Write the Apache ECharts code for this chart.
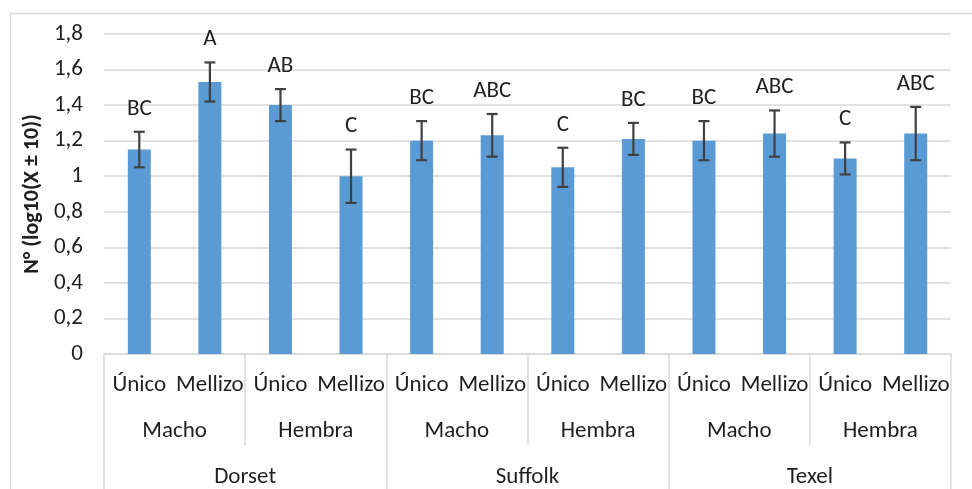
<!DOCTYPE html>
<html>
<head>
<meta charset="utf-8">
<script src="https://cdn.jsdelivr.net/npm/echarts@6/dist/echarts.min.js"></script>
<style>
  html, body { margin: 0; padding: 0; background: #fff; }
  #chart { width: 972px; height: 489px; }
</style>
</head>
<body>
<div id="chart"></div>
<script>
// niveles del eje de categorias
const tipoParto = ['Único', 'Mellizo', 'Único', 'Mellizo', 'Único', 'Mellizo',
                   'Único', 'Mellizo', 'Único', 'Mellizo', 'Único', 'Mellizo'];
const sexo = ['Macho', 'Hembra', 'Macho', 'Hembra', 'Macho', 'Hembra'];
const raza = ['Dorset', 'Suffolk', 'Texel'];

// medias, error y letras de significancia
const medias = [1.15, 1.53, 1.40, 1.00, 1.20, 1.23, 1.05, 1.21, 1.20, 1.24, 1.10, 1.24];
const errores = [0.10, 0.11, 0.09, 0.15, 0.11, 0.12, 0.11, 0.09, 0.11, 0.13, 0.09, 0.15];
const letras = ['BC', 'A', 'AB', 'C', 'BC', 'ABC', 'C', 'BC', 'BC', 'ABC', 'C', 'ABC'];

const yTicks = [0, 0.2, 0.4, 0.6, 0.8, 1, 1.2, 1.4, 1.6, 1.8];

const FONT = 'Carlito, Lato, sans-serif';
const TXT = '#1f1f1f';
const LINEA = '#d9d9d9';

var chart = echarts.init(document.getElementById('chart'), null, { renderer: 'canvas' });

var option = {
  animation: false,
  backgroundColor: '#fff',
  graphic: [{
    type: 'rect',
    left: 8, top: 11,
    shape: { width: 1100, height: 600 },
    style: { fill: 'none', stroke: LINEA, lineWidth: 1.5 },
    z: -10
  }],
  grid: { left: 104, right: 21, top: 34, bottom: 135 },
  xAxis: [{
    type: 'category',
    data: tipoParto,
    axisLine: { show: true, lineStyle: { color: LINEA, width: 1.5 } },
    axisTick: { show: false },
    axisLabel: { interval: 0, margin: 20, fontFamily: FONT, fontSize: 23, color: TXT }
  }, {
    type: 'category',
    data: sexo,
    position: 'bottom',
    axisLine: { show: false },
    axisTick: { show: true, length: 91, interval: 0, lineStyle: { color: LINEA, width: 1.5 } },
    axisLabel: { interval: 0, margin: 66, fontFamily: FONT, fontSize: 23, color: TXT }
  }, {
    type: 'category',
    data: raza,
    position: 'bottom',
    axisLine: { show: false },
    axisTick: { show: true, length: 150, interval: 0, lineStyle: { color: LINEA, width: 1.5 } },
    axisLabel: { interval: 0, margin: 112, fontFamily: FONT, fontSize: 23, color: TXT }
  }],
  yAxis: {
    type: 'value',
    min: 0, max: 1.8, interval: 0.2,
    name: 'N° (log10(X ± 10))',
    nameLocation: 'middle',
    nameGap: 60,
    nameTextStyle: { fontFamily: FONT, fontSize: 22, fontWeight: 'bold', color: TXT },
    axisLine: { show: false },
    axisTick: { show: false },
    splitLine: { lineStyle: { color: LINEA, width: 1.5 } },
    axisLabel: {
      margin: 21, fontFamily: FONT, fontSize: 23, color: TXT,
      formatter: function (v) {
        var t = yTicks.find(function (k) { return Math.abs(k - v) < 1e-6; });
        return String(t !== undefined ? t : v).replace('.', ',');
      }
    }
  },
  series: [{
    type: 'bar',
    data: medias,
    barWidth: 23,
    itemStyle: { color: '#5b9bd5' }
  }, {
    type: 'custom',
    data: medias.map(function (m, i) { return [i, m, errores[i], letras[i]]; }),
    z: 5,
    renderItem: function (params, api) {
      var i = api.value(0);
      var m = api.value(1);
      var e = api.value(2);
      var hi = api.coord([i, m + e]);
      var lo = api.coord([i, m - e]);
      var c = 5.5;
      var st = { stroke: '#404040', lineWidth: 2.2 };
      return {
        type: 'group',
        children: [
          { type: 'line', shape: { x1: hi[0], y1: hi[1], x2: lo[0], y2: lo[1] }, style: st },
          { type: 'line', shape: { x1: hi[0] - c, y1: hi[1], x2: hi[0] + c, y2: hi[1] }, style: st },
          { type: 'line', shape: { x1: lo[0] - c, y1: lo[1], x2: lo[0] + c, y2: lo[1] }, style: st },
          {
            type: 'text',
            style: {
              text: letras[params.dataIndex],
              x: hi[0], y: hi[1] - 23,
              align: 'center', verticalAlign: 'middle',
              font: '23px ' + FONT, fill: TXT
            }
          }
        ]
      };
    }
  }]
};

chart.setOption(option);
</script>
</body>
</html>
